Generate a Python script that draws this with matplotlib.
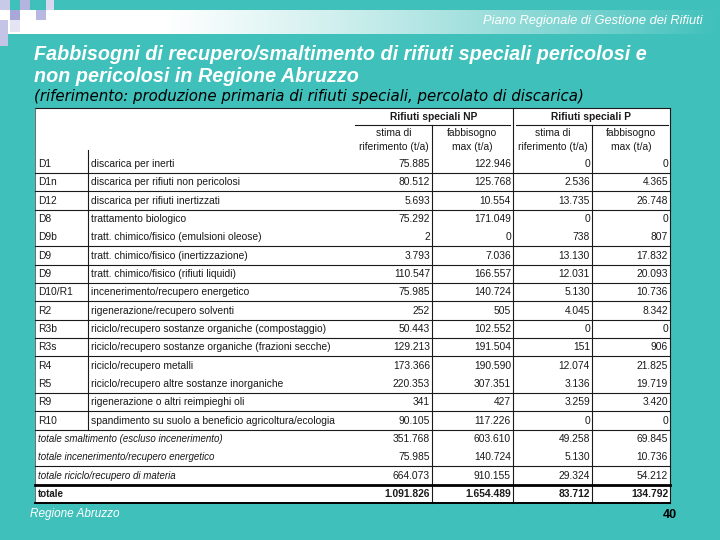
import matplotlib.pyplot as plt
import numpy as np
from matplotlib.patches import Rectangle

# slide colours
TEAL = '#40C0BB'
INK = '#1a1a1a'

# table data (t/a)
codes = ['D1', 'D1n', 'D12', 'D8', 'D9b', 'D9', 'D9', 'D10/R1', 'R2', 'R3b',
         'R3s', 'R4', 'R5', 'R9', 'R10']
descs = ['discarica per inerti',
         'discarica per rifiuti non pericolosi',
         'discarica per rifiuti inertizzati',
         'trattamento biologico',
         'tratt. chimico/fisico (emulsioni oleose)',
         'tratt. chimico/fisico (inertizzazione)',
         'tratt. chimico/fisico (rifiuti liquidi)',
         'incenerimento/recupero energetico',
         'rigenerazione/recupero solventi',
         'riciclo/recupero sostanze organiche (compostaggio)',
         'riciclo/recupero sostanze organiche (frazioni secche)',
         'riciclo/recupero metalli',
         'riciclo/recupero altre sostanze inorganiche',
         'rigenerazione o altri reimpieghi oli',
         'spandimento su suolo a beneficio agricoltura/ecologia']
np_stima = [75885, 80512, 5693, 75292, 2, 3793, 110547, 75985, 252, 50443,
            129213, 173366, 220353, 341, 90105]
np_fabb = [122946, 125768, 10554, 171049, 0, 7036, 166557, 140724, 505, 102552,
           191504, 190590, 307351, 427, 117226]
p_stima = [0, 2536, 13735, 0, 738, 13130, 12031, 5130, 4045, 0,
           151, 12074, 3136, 3259, 0]
p_fabb = [0, 4365, 26748, 0, 807, 17832, 20093, 10736, 8342, 0,
          906, 21825, 19719, 3420, 0]

tot_labels = ['totale smaltimento (escluso incenerimento)',
              'totale incenerimento/recupero energetico',
              'totale riciclo/recupero di materia',
              'totale']
tot_np_stima = [351768, 75985, 664073, 1091826]
tot_np_fabb = [603610, 140724, 910155, 1654489]
tot_p_stima = [49258, 5130, 29324, 83712]
tot_p_fabb = [69845, 10736, 54212, 134792]


def fmt(v):
    return f"{v:,}".replace(',', '.')


plt.rcParams['font.family'] = ['Liberation Sans', 'DejaVu Sans']

fig = plt.figure(figsize=(7.2, 5.4), dpi=100)
fig.patch.set_facecolor(TEAL)
ax = fig.add_axes([0, 0, 1, 1])
ax.set_facecolor(TEAL)

# top band: white fading into teal
grad = np.ones((1, 400, 4))
grad[0, :, 3] = np.clip(1.15 - np.linspace(0, 1, 400) ** 1.4 * 1.15, 0, 1)
ax.imshow(grad, extent=[0, 720, 34, 10], aspect='auto', zorder=1)

# decorative squares top-left
squares = [(0, 0, 10, 10, '#C9C9E8'), (20, 0, 10, 10, '#B4B4DE'),
           (0, 10, 10, 10, '#FFFFFF'), (10, 10, 10, 10, '#A8A8D8'),
           (0, 20, 8, 26, '#C4C4E6'), (36, 10, 10, 10, '#B8B8E0'),
           (46, 0, 8, 10, '#D8D8F0'), (10, 20, 10, 12, '#E4E4F4')]
for x, y, w, h, c in squares:
    ax.add_patch(Rectangle((x, y), w, h, facecolor=c, edgecolor='none', zorder=2))

ax.text(703, 21, 'Piano Regionale di Gestione dei Rifiuti', color='white',
        fontsize=9.3, style='italic', ha='right', va='center', zorder=3)

ax.text(34, 55, 'Fabbisogni di recupero/smaltimento di rifiuti speciali pericolosi e',
        color='white', fontsize=14.2, style='italic', weight='bold', va='center')
ax.text(34, 77, 'non pericolosi in Regione Abruzzo',
        color='white', fontsize=14.2, style='italic', weight='bold', va='center')
ax.text(34, 97, '(riferimento: produzione primaria di rifiuti speciali, percolato di discarica)',
        color='black', fontsize=10.8, style='italic', va='center',
        family=['DejaVu Sans'])

# table
left, right, top = 35, 670, 108
row0, dy = 164, 18.33
nrows = len(codes) + len(tot_labels)
bottom = row0 + (nrows - 0.5) * dy
ax.add_patch(Rectangle((left, top), right - left, bottom - top,
                       facecolor='white', edgecolor='none', zorder=2))

col_edges = [355, 432, 513, 592, 670]
lw = 0.8
ax.plot([left, right], [top, top], color=INK, lw=lw, zorder=4)
ax.plot([355, 510], [125, 125], color=INK, lw=lw, zorder=4)
ax.plot([516, 668], [125, 125], color=INK, lw=lw, zorder=4)
ax.plot([left, left], [top, bottom], color='#555555', lw=0.6, zorder=4)
for x in [513, 670]:
    ax.plot([x, x], [top, bottom], color=INK, lw=lw, zorder=4)
for x in [432, 592]:
    ax.plot([x, x], [125, bottom], color=INK, lw=lw, zorder=4)
ax.plot([88, 88], [150, row0 + 14.5 * dy], color=INK, lw=lw, zorder=4)

fs = 7.4
hdr = dict(fontsize=fs, ha='center', va='center', color=INK, zorder=5)
ax.text(434, 117, 'Rifiuti speciali NP', weight='bold', **hdr)
ax.text(591, 117, 'Rifiuti speciali P', weight='bold', **hdr)
for cx, (a, b) in zip([394, 472, 553, 631],
                      [('stima di', 'riferimento (t/a)'), ('fabbisogno', 'max (t/a)')] * 2):
    ax.text(cx, 133, a, **hdr)
    ax.text(cx, 147, b, **hdr)

# rows after which a separator line is drawn
line_after = [0, 1, 2, 4, 5, 6, 7, 8, 9, 10, 12, 13, 14, 16]
for i in line_after:
    y = row0 + (i + 0.5) * dy
    ax.plot([left, right], [y, y], color=INK, lw=lw, zorder=4)
y = row0 + 17.5 * dy
ax.plot([left, right], [y, y], color='black', lw=2, zorder=4)
ax.plot([left, right], [bottom, bottom], color='black', lw=1.4, zorder=4)

num_x = [e - 2 for e in col_edges[1:]]
for i, code in enumerate(codes):
    y = row0 + i * dy
    ax.text(38, y, code, fontsize=fs, va='center', color=INK, zorder=5)
    ax.text(91, y, descs[i], fontsize=fs, va='center', color=INK, zorder=5)
    for x, vals in zip(num_x, [np_stima, np_fabb, p_stima, p_fabb]):
        ax.text(x, y, fmt(vals[i]), fontsize=fs, ha='right', va='center',
                color=INK, zorder=5)

for j, lab in enumerate(tot_labels):
    y = row0 + (len(codes) + j) * dy
    last = j == len(tot_labels) - 1
    kw = dict(weight='bold') if last else dict(style='italic')
    ax.text(38, y, lab, fontsize=7.0, va='center', color=INK, zorder=5, **kw)
    for x, vals in zip(num_x, [tot_np_stima, tot_np_fabb, tot_p_stima, tot_p_fabb]):
        ax.text(x, y, fmt(vals[j]), fontsize=fs, ha='right', va='center',
                color=INK, zorder=5, weight='bold' if last else 'normal')

# footer
ax.text(30, 514, 'Regione Abruzzo', color='white', fontsize=8.5, style='italic', va='center')
ax.text(670, 515, '40', color='black', fontsize=9, weight='bold', ha='center', va='center')

ax.set_xlim(0, 720)
ax.set_ylim(540, 0)
ax.axis('off')

plt.savefig('out.png', dpi=100, facecolor=TEAL)
